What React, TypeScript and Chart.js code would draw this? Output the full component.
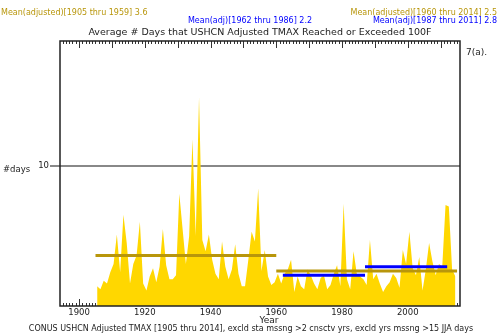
import React, { useEffect, useRef } from 'react';
import { Chart, registerables } from 'chart.js';
Chart.register(...registerables);

// ---- data ----
const FIRST_YEAR = 1905;
const days = [
  1.4, 1.2, 1.8, 1.6, 2.4, 3.0, 5.1, 2.4, 6.5, 4.5,
  1.6, 3.0, 3.6, 6.0, 1.6, 1.1, 2.1, 2.7, 1.7, 2.8,
  5.5, 2.9, 1.9, 1.9, 2.2, 8.0, 5.5, 3.0, 5.0, 11.9,
  5.0, 14.9, 4.7, 3.9, 5.1, 3.3, 2.3, 1.9, 4.6, 2.8,
  1.9, 2.6, 4.4, 2.3, 1.4, 1.4, 3.3, 5.3, 4.6, 8.4,
  2.5, 4.0, 2.1, 1.5, 1.7, 2.3, 1.6, 2.3, 2.6, 3.3,
  1.0, 2.1, 1.4, 1.2, 2.6, 2.2, 1.6, 1.2, 2.0, 2.2,
  1.2, 1.5, 2.3, 2.9, 1.4, 7.3, 1.9, 1.2, 3.9, 2.3,
  2.1, 1.9, 1.5, 4.7, 1.9, 2.3, 1.6, 1.0, 1.4, 1.7,
  2.3, 2.0, 1.3, 4.0, 3.0, 5.3, 2.7, 2.2, 3.5, 1.1,
  2.6, 4.5, 3.2, 2.2, 3.0, 2.8, 7.2, 7.1, 2.6, 2.1,
];
const years = days.map((_, i) => FIRST_YEAR + i);

const meanPrefix = ['Mean(adjusted)', 'Mean(adjusted)', 'Mean(adj)', 'Mean(adj)'];
const meanStart = [1905, 1960, 1962, 1987];
const meanEnd = [1959, 2014, 1986, 2011];
const meanValue = [3.6, 2.5, 2.2, 2.8];
const meanColor = ['#b8960b', '#b8960b', '#0000ff', '#0000ff'];

const xTickYears = [1900, 1920, 1940, 1960, 1980, 2000];
const yTickValues = [10];

const TITLE = 'Average # Days that USHCN Adjusted TMAX Reached or Exceeded 100F';
const CAPTION = 'CONUS USHCN Adjusted TMAX [1905 thru 2014], excld sta mssng >2 cnsctv yrs, excld yrs mssng >15 JJA days';
const X_TITLE = 'Year';
const Y_TITLE = '#days';
const PANEL = '7(a).';

const FONT = 'DejaVu Sans';
const FILL = '#ffd700';

export default function App() {
  const ref = useRef<HTMLCanvasElement>(null);
  useEffect(() => {
    document.body.style.margin = '0';
    const canvas = ref.current!;
    const decor = {
      id: 'decor',
      beforeDatasetsDraw(chart: any) {
        const ctx = chart.ctx;
        const a = chart.chartArea;
        const xs = chart.scales.x;
        ctx.save();
        ctx.strokeStyle = '#333';
        ctx.lineWidth = 1;
        for (let y = Math.ceil(xs.min); y <= Math.floor(xs.max); y++) {
          const px = Math.round(xs.getPixelForValue(y)) + 0.5;
          const len = y % 10 === 0 ? 7 : 3;
          ctx.beginPath();
          ctx.moveTo(px, a.top);
          ctx.lineTo(px, a.top + len);
          ctx.moveTo(px, a.bottom);
          ctx.lineTo(px, a.bottom - len);
          ctx.stroke();
        }
        ctx.restore();
      },
      afterDraw(chart: any) {
        const ctx = chart.ctx;
        const a = chart.chartArea;
        ctx.save();
        ctx.strokeStyle = '#222';
        ctx.lineWidth = 1.5;
        ctx.strokeRect(a.left, a.top, a.right - a.left, a.bottom - a.top);

        ctx.textBaseline = 'middle';
        const lbl = (i: number) => `${meanPrefix[i]}[${meanStart[i]} thru ${meanEnd[i]}] ${meanValue[i]}`;
        ctx.font = `8px "${FONT}"`;
        ctx.fillStyle = meanColor[0];
        ctx.textAlign = 'left';
        ctx.fillText(lbl(0), 1, 12.5);
        ctx.textAlign = 'right';
        ctx.fillStyle = meanColor[1];
        ctx.fillText(lbl(1), 497, 12.5);
        ctx.fillStyle = meanColor[3];
        ctx.fillText(lbl(3), 497, 20.5);
        ctx.textAlign = 'center';
        ctx.fillStyle = meanColor[2];
        ctx.fillText(lbl(2), 250, 20.5);

        ctx.fillStyle = '#222';
        ctx.font = `9.5px "${FONT}"`;
        ctx.fillText(TITLE, (a.left + a.right) / 2, 33);

        ctx.font = `9px "${FONT}"`;
        ctx.textAlign = 'left';
        ctx.fillText(PANEL, 466, 53);

        ctx.font = `8.5px "${FONT}"`;
        ctx.fillText(Y_TITLE, 3, 170);

        ctx.textAlign = 'center';
        ctx.font = `9px "${FONT}"`;
        ctx.fillText(X_TITLE, 269, 321);
        ctx.font = `8px "${FONT}"`;
        ctx.fillText(CAPTION, 251, 328.5);
        ctx.restore();
      },
    };

    const meanSets = meanValue.map((v, i) => ({
      type: 'line' as const,
      data: [
        { x: meanStart[i], y: v },
        { x: meanEnd[i] + 1, y: v },
      ],
      borderColor: meanColor[i],
      borderWidth: 3,
      pointRadius: 0,
      fill: false,
      order: 0,
    }));

    const chart = new Chart(canvas, {
      type: 'line',
      data: {
        datasets: [
          ...meanSets,
          {
            data: years.map((y, i) => ({ x: y + 0.5, y: days[i] })),
            backgroundColor: FILL,
            borderColor: FILL,
            borderWidth: 0,
            pointRadius: 0,
            fill: 'origin',
            tension: 0,
            order: 5,
          },
        ],
      },
      options: {
        animation: false,
        responsive: false,
        events: [],
        layout: { padding: { top: 41, right: 40, left: 0, bottom: 0 } },
        plugins: { legend: { display: false }, tooltip: { enabled: false } },
        scales: {
          x: {
            type: 'linear',
            min: 1894.2,
            max: 2015.9,
            afterFit: (s: any) => { s.height = 27; },
            afterBuildTicks: (s: any) => { s.ticks = xTickYears.map((v) => ({ value: v })); },
            grid: { display: false, drawTicks: false },
            border: { display: false },
            ticks: {
              padding: 2,
              color: '#222',
              font: { family: FONT, size: 8.5 },
              maxRotation: 0,
              callback: (v: any) => String(v),
            },
          },
          y: {
            type: 'linear',
            min: 0,
            max: 18.9,
            z: 1,
            afterFit: (s: any) => { s.width = 60; },
            afterBuildTicks: (s: any) => { s.ticks = yTickValues.map((v) => ({ value: v })); },
            grid: { color: '#888', lineWidth: 2, tickLength: 10, drawTicks: true },
            border: { display: false },
            ticks: {
              padding: 1,
              color: '#222',
              font: { family: FONT, size: 8.5 },
              callback: (v: any) => String(v),
            },
          },
        },
      },
      plugins: [decor],
    });
    return () => chart.destroy();
  }, []);
  return (
    <div style={{ width: 500, height: 333 }}>
      <canvas ref={ref} width={500} height={333} style={{ display: 'block' }} />
    </div>
  );
}
